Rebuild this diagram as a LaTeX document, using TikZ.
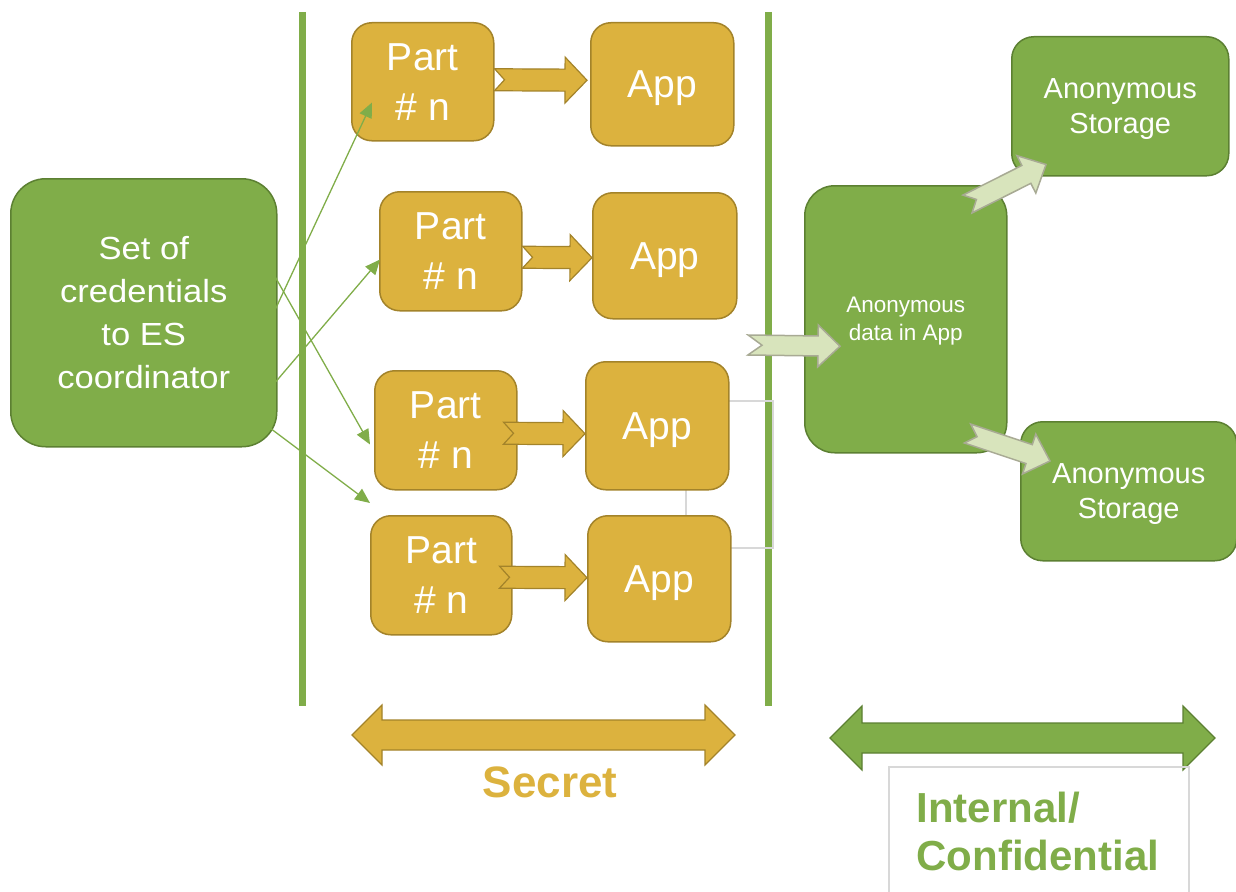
\documentclass[tikz,border=0pt]{standalone}
\usepackage{fontspec}
\setmainfont{Liberation Sans}
\newfontfamily\widesans[FakeStretch=1.08]{Liberation Sans}
\usetikzlibrary{calc,arrows.meta}

\definecolor{gold}{RGB}{220,178,62}
\definecolor{golddark}{RGB}{163,131,42}
\definecolor{leaf}{RGB}{128,173,73}
\definecolor{leafdark}{RGB}{92,128,50}
\definecolor{pale}{RGB}{216,228,188}
\definecolor{palerim}{RGB}{168,170,148}
\definecolor{rulegray}{RGB}{216,216,216}

\newcommand\partfont{\fontsize{39}{50}\selectfont}
\newcommand\credfont{\widesans\fontsize{32}{43}\selectfont}
\newcommand\storefont{\fontsize{29}{35}\selectfont}
\newcommand\smallfont{\fontsize{22.5}{28}\selectfont}
\newcommand\labelfont{\bfseries\fontsize{42}{48}\selectfont}

% notched block arrow: style, tail, tip, shaft half width, head half width, head length, notch depth
\newcommand\fatarrow[7]{%
  \coordinate (fa-t) at (#2);
  \coordinate (fa-p) at (#3);
  \coordinate (fa-b) at ($(fa-p)!#6pt!(fa-t)$);
  \filldraw[#1] ($(fa-t)!#4pt!90:(fa-p)$) -- ($(fa-b)!#4pt!90:(fa-p)$)
    -- ($(fa-b)!#5pt!90:(fa-p)$) -- (fa-p) -- ($(fa-b)!#5pt!-90:(fa-p)$)
    -- ($(fa-b)!#4pt!-90:(fa-p)$) -- ($(fa-t)!#4pt!-90:(fa-p)$)
    -- ($(fa-t)!#7pt!(fa-p)$) -- cycle;
}
% double-headed block arrow: style, left tip, right tip, shaft half width, head half width, head length
\newcommand\twowayarrow[6]{%
  \coordinate (tw-l) at (#2);
  \coordinate (tw-r) at (#3);
  \coordinate (tw-lb) at ($(tw-l)!#6pt!(tw-r)$);
  \coordinate (tw-rb) at ($(tw-r)!#6pt!(tw-l)$);
  \filldraw[#1] (tw-l) -- ($(tw-lb)!#5pt!90:(tw-r)$) -- ($(tw-lb)!#4pt!90:(tw-r)$)
    -- ($(tw-rb)!#4pt!-90:(tw-l)$) -- ($(tw-rb)!#5pt!-90:(tw-l)$) -- (tw-r)
    -- ($(tw-rb)!#5pt!90:(tw-l)$) -- ($(tw-rb)!#4pt!90:(tw-l)$)
    -- ($(tw-lb)!#4pt!-90:(tw-r)$) -- ($(tw-lb)!#5pt!-90:(tw-r)$) -- cycle;
}

\tikzset{
  goldbox/.style={draw=golddark, line width=1.5pt, fill=gold, rounded corners=20pt,
    text=white, align=center, inner sep=0pt, anchor=north west, font=\partfont},
  appbox/.style={goldbox, text depth=0pt},
  leafbox/.style={draw=leafdark, line width=1.5pt, fill=leaf,
    text=white, align=center, inner sep=0pt, anchor=north west},
  goldarrow/.style={fill=gold, draw=golddark, line width=1.2pt, line join=miter},
  palearrow/.style={fill=pale, draw=palerim, line width=1.5pt, line join=miter},
  bigleaf/.style={fill=leaf, draw=leafdark, line width=1.2pt, line join=miter},
  biggold/.style={fill=gold, draw=golddark, line width=1.2pt, line join=miter},
  thinarrow/.style={draw=leaf, line width=1.3pt, -{Triangle[length=15pt,width=13pt]}},
  divider/.style={draw=leaf, line width=7pt},
  ruleline/.style={draw=rulegray, line width=1.5pt},
}

\begin{document}
\begin{tikzpicture}[x=1pt,y=-1pt]
\useasboundingbox (0,0) rectangle (1236,891);

% boundaries of the secret zone
\draw[divider] (302,12) -- (302,706);
\draw[divider] (768,12) -- (768,706);

% credentials
\node[leafbox, rounded corners=35pt, minimum width=266pt, minimum height=268pt, font=\credfont]
  (cred) at (10,178) {Set of\\credentials\\to ES\\coordinator};

% light frame linking the lower apps
\draw[ruleline] (728,401) coordinate (r1) -- (773,401) |- (730,548) coordinate (r2);
\draw[ruleline] (686,489) coordinate (r3) -- (686,515) coordinate (r4);

% parts and apps
\node[goldbox, minimum width=142pt, minimum height=118pt] (p1) at (351,22) {Part\\\# n};
\node[goldbox, minimum width=142pt, minimum height=119pt] (p2) at (379,191) {Part\\\# n};
\node[goldbox, minimum width=142pt, minimum height=119pt] (p3) at (374,370) {Part\\\# n};
\node[goldbox, minimum width=141pt, minimum height=119pt] (p4) at (370,515) {Part\\\# n};

\node[appbox, minimum width=143pt, minimum height=123pt] (a1) at (590,22) {App};
\node[appbox, minimum width=144pt, minimum height=126pt] (a2) at (592,192) {App};
\node[appbox, minimum width=143pt, minimum height=128pt] (a3) at (585,361) {App};
\node[appbox, minimum width=143pt, minimum height=126pt] (a4) at (587,515) {App};

% credentials handed to the parts
\coordinate (c1) at (275,310);
\coordinate (c2) at (273,385);
\coordinate (c3) at (273,273);
\coordinate (c4) at (270,428);
\draw[thinarrow] (c1) -- ($(p1.south west)+(21,-39)$);
\draw[thinarrow] (c2) -- ($(p2.south west)+(1,-52)$);
\draw[thinarrow] (c3) -- ($(p3.south west)+(-4,-46)$);
\draw[thinarrow] (c4) -- ($(p4.north west)+(0,-12)$);

% part to app
\fatarrow{goldarrow}{$(p1.east)+(0,-2)$}{$(a1.west)+(-3,-4)$}{11}{23}{22}{10}
\fatarrow{goldarrow}{$(p2.east)+(0,6)$}{$(a2.west)+(0,2)$}{11}{23}{22}{10}
\fatarrow{goldarrow}{$(p3.east)+(-14,3)$}{$(a3.west)+(0,8)$}{11}{23}{22}{10}
\fatarrow{goldarrow}{$(p4.east)+(-13,2)$}{$(a4.west)+(0,-1)$}{11}{23}{22}{10}

% anonymous side
\node[leafbox, rounded corners=30pt, minimum width=202pt, minimum height=267pt, font=\smallfont, text depth=0pt]
  (anon) at (804,185) {Anonymous\\data in App};
\node[leafbox, rounded corners=22pt, minimum width=217pt, minimum height=139pt, font=\storefont, text depth=0pt]
  (st1) at (1011,36) {Anonymous\\Storage};
\node[leafbox, rounded corners=22pt, minimum width=216pt, minimum height=139pt, font=\storefont, text depth=0pt]
  (st2) at (1020,421) {Anonymous\\Storage};

\coordinate (in) at (748,345);
\fatarrow{palearrow}{in}{$(anon.west)+(36,27)$}{10}{21}{22}{14}
\fatarrow{palearrow}{$(anon.north east)+(-40,19)$}{$(st1.south west)+(35,-12)$}{10}{21}{22}{10}
\fatarrow{palearrow}{$(anon.south east)+(-40,-20)$}{$(st2.north west)+(30,40)$}{10}{21}{22}{10}

% zone extents
\coordinate (secL) at (352,735);
\coordinate (secR) at (735,735);
\twowayarrow{biggold}{secL}{secR}{15}{30}{30}
\node[text=gold, font=\bfseries\fontsize{44}{48}\selectfont, anchor=base] (secret) at (550,797) {Secret};

\coordinate (intL) at (830,738);
\coordinate (intR) at (1215,738);
\twowayarrow{bigleaf}{intL}{intR}{15}{32}{32}
\draw[ruleline] (889,892) |- (1189,767) -- (1189,892);
\node[text=leaf, font=\labelfont, anchor=base west, align=left] (internal) at (913,822) {Internal/};
\node[text=leaf, font=\labelfont, anchor=base west] (confidential) at (913,870) {Confidential};
\end{tikzpicture}
\end{document}
